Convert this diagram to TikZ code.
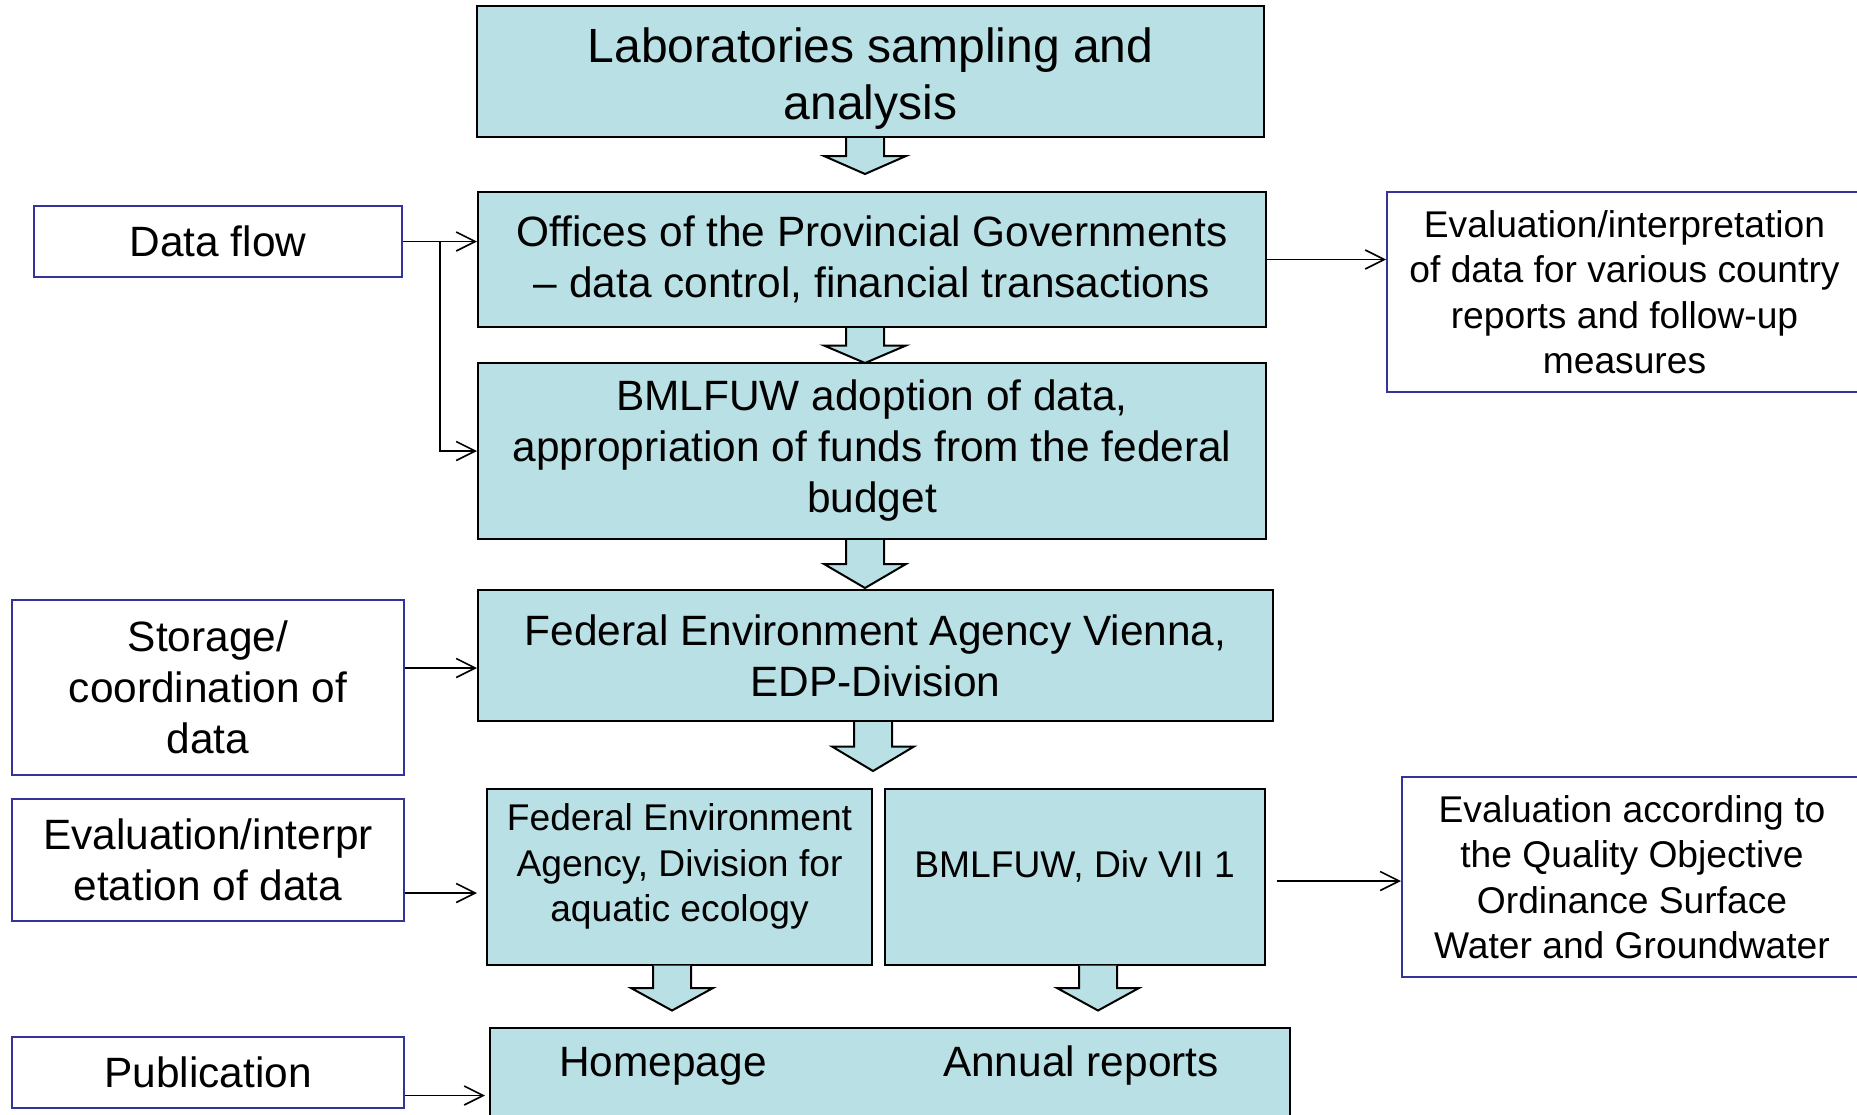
\documentclass[tikz,border=0pt]{standalone}
\usepackage{fontspec}
\setmainfont{Liberation Sans}
\usetikzlibrary{arrows.meta}
\definecolor{aqua}{RGB}{185,224,228}
\definecolor{frameblue}{RGB}{51,51,153}
\tikzset{>={Straight Barb[length=9.5pt,width=9.5pt]}}
\tikzset{
  bigtext/.style = {font=\fontsize{24}{28.5}\selectfont},
  midtext/.style = {font=\fontsize{21.2}{25.5}\selectfont},
  smalltext/.style = {font=\fontsize{18.6}{22.7}\selectfont},
  flowbox/.style = {draw=black,fill=aqua,line width=1pt,inner sep=0pt,align=center},
  notebox/.style = {draw=frameblue,fill=white,line width=1pt,inner sep=0pt,align=center},
  pics/blockarrow/.style = {code={
    \draw[fill=aqua,line width=1pt]
      (-19,0) -- (-19,#1/2) -- (-41,#1/2) -- (0,#1) -- (41,#1/2) -- (19,#1/2) -- (19,0);
  }}
}

\begin{document}
\begin{tikzpicture}[x=0.5pt,y=-0.5pt,line width=0.8pt]
  \useasboundingbox (0,0) rectangle (1857,1114);
  \clip (0,0) rectangle (1857,1114);

  % main chain
  \node[flowbox,minimum width=393.5pt,minimum height=65.5pt,
    label={[bigtext,align=center,yshift=-3.5pt]center:Laboratories sampling and\\analysis}]
    (labs) at (870.5,71.5) {};
  \node[flowbox,midtext,minimum width=394pt,minimum height=67.5pt] (offices) at (872,259.5)
    {Offices of the Provincial Governments\\– data control, financial transactions};
  \node[flowbox,midtext,minimum width=394pt,minimum height=88pt] (bmlfuw) at (872,451)
    {BMLFUW adoption of data,\\appropriation of funds from the federal\\budget};
  \node[flowbox,midtext,minimum width=397.5pt,minimum height=65.5pt] (agency) at (875.5,655.5)
    {Federal Environment Agency Vienna,\\EDP-Division};
  \node[flowbox,minimum width=192.5pt,minimum height=88pt,
    label={[smalltext,align=center,yshift=5pt]center:Federal Environment\\Agency, Division for\\aquatic ecology}]
    (aquatic) at (679.5,876.5) {};
  \node[flowbox,minimum width=190pt,minimum height=88pt,
    label={[smalltext,yshift=5pt]center:BMLFUW, Div VII 1}]
    (divvii) at (1074.5,876.5) {};
  \node[flowbox,minimum width=400pt,minimum height=62pt] (outputs) at (890,1090) {};
  \node[midtext] (homepage) at (663,1066) {Homepage};
  \node[midtext] (annual) at (1081,1066) {Annual reports};

  \pic at ([xshift=-2.75pt]labs.south) {blockarrow=36};
  \pic at ([xshift=-3.5pt]offices.south) {blockarrow=35};
  \pic at ([xshift=-3.5pt]bmlfuw.south) {blockarrow=48};
  \pic at ([xshift=-1.25pt]agency.south) {blockarrow=49};
  \pic at ([xshift=-3.75pt]aquatic.south) {blockarrow=45};
  \pic at ([xshift=11.75pt]divvii.south) {blockarrow=45};

  % side notes
  \node[notebox,midtext,minimum width=184pt,minimum height=35.5pt] (dataflow) at (218,241.5)
    {Data flow};
  \node[notebox,midtext,minimum width=196pt,minimum height=87.5pt] (storage) at (208,687.5)
    {Storage/\\coordination of\\data};
  \node[notebox,midtext,minimum width=196pt,minimum height=61pt] (evalleft) at (208,860)
    {Evaluation/interpr\\etation of data};
  \node[notebox,midtext,minimum width=196pt,minimum height=35.5pt] (publication) at (208,1072.5)
    {Publication};
  \node[notebox,smalltext,minimum width=237.5pt,minimum height=100pt] (evalright) at (1624.5,292)
    {Evaluation/interpretation\\of data for various country\\reports and follow-up\\measures};
  \node[notebox,smalltext,minimum width=230pt,minimum height=100pt] (quality) at (1632,877)
    {Evaluation according to\\the Quality Objective\\Ordinance Surface\\Water and Groundwater};

  % thin arrows
  \coordinate (split) at ([xshift=18.5pt]dataflow.east);
  \draw[->] (dataflow.east) -- (dataflow.east -| offices.west);
  \draw[->] (split) |- (bmlfuw.west);
  \coordinate (s1) at ([yshift=9.75pt]storage.east);
  \draw[->] (s1) -- (s1 -| agency.west);
  \coordinate (e1) at ([yshift=-16.5pt]evalleft.east);
  \draw[->,shorten >=4.5pt] (e1) -- (e1 -| aquatic.west);
  \coordinate (p1) at ([yshift=-11.5pt]publication.east);
  \draw[->,shorten >=2pt] (p1) -- (p1 -| outputs.west);
  \draw[->] (offices.east) -- (offices.east -| evalright.west);
  \coordinate (d1) at ([yshift=-2.25pt]divvii.east);
  \draw[->,shorten <=5.5pt] (d1) -- (d1 -| quality.west);
\end{tikzpicture}
\end{document}
